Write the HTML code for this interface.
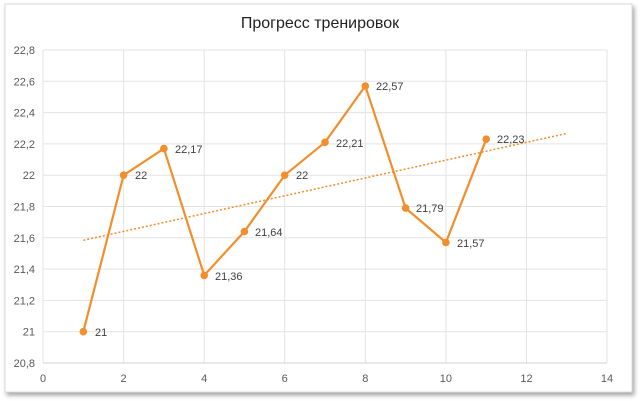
<!DOCTYPE html>
<html><head><meta charset="utf-8"><style>
body{margin:0;background:#fff;}
svg{display:block;font-family:"Liberation Sans",sans-serif;}
</style></head><body>
<svg width="640" height="401" viewBox="0 0 640 401">
<defs><filter id="sh" x="-5%" y="-5%" width="110%" height="110%"><feDropShadow dx="2" dy="3" stdDeviation="2" flood-color="#000" flood-opacity="0.35"/></filter></defs>
<rect x="5" y="4" width="627" height="388" fill="#fff" stroke="#d9d9d9" filter="url(#sh)"/>
<text x="320" y="28" text-anchor="middle" font-size="16" fill="#222">Прогресс тренировок</text>
<g stroke="#e3e3e3" stroke-width="1">
<line x1="43" y1="50" x2="607" y2="50"/><line x1="43" y1="81.3" x2="607" y2="81.3"/><line x1="43" y1="112.6" x2="607" y2="112.6"/><line x1="43" y1="143.9" x2="607" y2="143.9"/><line x1="43" y1="175.2" x2="607" y2="175.2"/><line x1="43" y1="206.5" x2="607" y2="206.5"/><line x1="43" y1="237.8" x2="607" y2="237.8"/><line x1="43" y1="269.1" x2="607" y2="269.1"/><line x1="43" y1="300.4" x2="607" y2="300.4"/><line x1="43" y1="331.7" x2="607" y2="331.7"/>
<line x1="123.6" y1="50" x2="123.6" y2="363"/><line x1="204.2" y1="50" x2="204.2" y2="363"/><line x1="284.7" y1="50" x2="284.7" y2="363"/><line x1="365.3" y1="50" x2="365.3" y2="363"/><line x1="445.9" y1="50" x2="445.9" y2="363"/><line x1="526.5" y1="50" x2="526.5" y2="363"/><line x1="607" y1="50" x2="607" y2="363"/>
<line x1="43" y1="50" x2="43" y2="363"/>
</g>
<line x1="43" y1="363" x2="607" y2="363" stroke="#d0d0d0"/>
<g font-size="11" fill="#595959" text-anchor="end">
<text x="35" y="54">22,8</text><text x="35" y="85.3">22,6</text><text x="35" y="116.6">22,4</text><text x="35" y="147.9">22,2</text><text x="35" y="179.2">22</text><text x="35" y="210.5">21,8</text><text x="35" y="241.8">21,6</text><text x="35" y="273.1">21,4</text><text x="35" y="304.4">21,2</text><text x="35" y="335.7">21</text><text x="35" y="367">20,8</text>
</g>
<g font-size="11" fill="#595959" text-anchor="middle">
<text x="43" y="382">0</text><text x="123.6" y="382">2</text><text x="204.2" y="382">4</text><text x="284.7" y="382">6</text><text x="365.3" y="382">8</text><text x="445.9" y="382">10</text><text x="526.5" y="382">12</text><text x="607" y="382">14</text>
</g>
<line x1="83.3" y1="240.3" x2="566.8" y2="133.4" stroke="#f28e2b" stroke-width="1.5" stroke-dasharray="2,2"/>
<polyline fill="none" stroke="#f28e2b" stroke-width="2.2" points="83.3,331.7 123.6,175.2 163.9,148.6 204.2,275.4 244.4,231.5 284.7,175.2 325,142.3 365.3,86 405.6,208.1 445.9,242.5 486.2,139.2"/>
<g fill="#f28e2b">
<circle cx="83.3" cy="331.7" r="3.8"/><circle cx="123.6" cy="175.2" r="3.8"/><circle cx="163.9" cy="148.6" r="3.8"/><circle cx="204.2" cy="275.4" r="3.8"/><circle cx="244.4" cy="231.5" r="3.8"/><circle cx="284.7" cy="175.2" r="3.8"/><circle cx="325" cy="142.3" r="3.8"/><circle cx="365.3" cy="86" r="3.8"/><circle cx="405.6" cy="208.1" r="3.8"/><circle cx="445.9" cy="242.5" r="3.8"/><circle cx="486.2" cy="139.2" r="3.8"/>
</g>
<g font-size="11" fill="#404040">
<text x="95" y="336">21</text><text x="135" y="179">22</text><text x="175" y="153">22,17</text><text x="215" y="280">21,36</text><text x="255" y="236">21,64</text><text x="296" y="179">22</text><text x="336" y="147">22,21</text><text x="376" y="90">22,57</text><text x="416" y="212">21,79</text><text x="457" y="247">21,57</text><text x="497" y="143">22,23</text>
</g>
</svg>
</body></html>
